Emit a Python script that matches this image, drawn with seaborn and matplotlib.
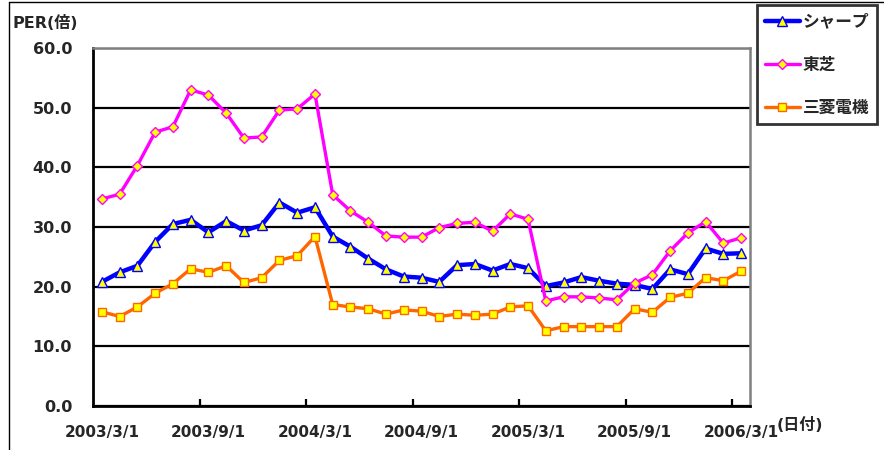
import matplotlib
matplotlib.use("Agg")
import matplotlib.pyplot as plt
from matplotlib.lines import Line2D
from matplotlib.ticker import FixedLocator, FormatStrFormatter
import seaborn as sns
import pandas as pd

# monthly dates, 2003/3 .. 2006/3
dates = [f"{2003 + (m + 2) // 12}/{(m + 2) % 12 + 1}/1" for m in range(37)]
tick_labels = ["2003/3/1", "2003/9/1", "2004/3/1", "2004/9/1",
               "2005/3/1", "2005/9/1", "2006/3/1"]

sharp = [20.8, 22.4, 23.5, 27.5, 30.5, 31.2, 29.1, 31.0, 29.4, 30.3,
         34.1, 32.4, 33.3, 28.4, 26.7, 24.7, 22.9, 21.7, 21.5, 20.8,
         23.6, 23.8, 22.7, 23.8, 23.1, 20.1, 20.7, 21.6, 21.0, 20.5,
         20.3, 19.6, 22.9, 22.1, 26.4, 25.5, 25.6]
toshiba = [34.7, 35.5, 40.3, 45.9, 46.8, 53.0, 52.1, 49.1, 44.9, 45.1,
           49.6, 49.8, 52.3, 35.4, 32.7, 30.8, 28.5, 28.3, 28.3, 29.9,
           30.6, 30.8, 29.3, 32.2, 31.3, 17.6, 18.3, 18.3, 18.1, 17.8,
           20.6, 22.0, 26.0, 29.0, 30.9, 27.3, 28.2]
mitsubishi = [15.8, 15.0, 16.6, 18.9, 20.5, 23.0, 22.4, 23.5, 20.7, 21.5,
              24.4, 25.2, 28.4, 17.0, 16.6, 16.3, 15.4, 16.1, 15.9, 15.0,
              15.4, 15.2, 15.4, 16.6, 16.8, 12.6, 13.3, 13.3, 13.3, 13.3,
              16.3, 15.7, 18.2, 18.9, 21.5, 21.0, 22.6]

series = [("シャープ", sharp, "#0000FF", "^", 7, 3.2),
          ("東芝", toshiba, "#FF00FF", "D", 5, 2.4),
          ("三菱電機", mitsubishi, "#FF6600", "s", 6, 2.4)]

sns.set_style("white")
plt.rcParams["font.family"] = ["DejaVu Sans", "Noto Sans CJK JP"]
plt.rcParams["font.weight"] = "bold"

fig = plt.figure(figsize=(8.84, 4.5), dpi=100)
ax = fig.add_axes([93 / 884, 1 - 406 / 450, 657 / 884, 358 / 450])

idx = list(range(len(dates)))
for name, vals, col, mk, ms, lw in series:
    df = pd.DataFrame({"x": idx, "PER": vals})
    sns.lineplot(data=df, x="x", y="PER", ax=ax, color=col, linewidth=lw,
                 marker=mk, markersize=ms, markerfacecolor="#FFFF00",
                 markeredgecolor=col, markeredgewidth=1.0, label=name,
                 legend=False, zorder=3)

ax.set_xlim(-0.5, 36.5)
ax.set_ylim(0, 60)
ax.set_xlabel("")
ax.set_ylabel("")

ax.set_yticks(range(0, 61, 10))
ax.yaxis.set_major_formatter(FormatStrFormatter("%.1f"))
ax.grid(axis="y", color="black", linewidth=1.6, zorder=1)
ax.set_axisbelow(True)

ax.set_xticks(list(range(0, 37, 6)))
ax.set_xticklabels(tick_labels)
ax.xaxis.set_minor_locator(FixedLocator([5.5, 11.5, 17.5, 23.5, 29.5, 35.5]))
ax.tick_params(axis="x", which="major", length=0, pad=14, labelsize=11)
ax.tick_params(axis="x", which="minor", direction="in", length=5,
               width=1.6, color="black", bottom=True)
ax.tick_params(axis="y", length=0, pad=15, labelsize=11.5)

for s in ["left", "bottom"]:
    ax.spines[s].set_color("black")
    ax.spines[s].set_linewidth(2.0)
for s in ["top", "right"]:
    ax.spines[s].set_color("#808080")
    ax.spines[s].set_linewidth(1.8)

fig.text(13 / 884, 1 - 23 / 450, "PER(倍)", fontsize=11.5,
         fontweight="bold", va="center", ha="left")
fig.text(777 / 884, 1 - 425 / 450, "(日付)", fontsize=11.5,
         fontweight="bold", va="center", ha="left")

handles, labels = ax.get_legend_handles_labels()
leg = fig.legend(handles, labels, loc="upper left",
                 bbox_to_anchor=(757 / 884, 1 - 5 / 450), borderaxespad=0,
                 frameon=True, fancybox=False, borderpad=0.45,
                 labelspacing=1.5, handlelength=2.1, handletextpad=0.2,
                 prop={"size": 12, "weight": "bold"})
leg.get_frame().set_edgecolor("black")
leg.get_frame().set_linewidth(2.0)

# outer chart frame (only the top and left edges show)
fig.add_artist(Line2D([9 / 884, 9 / 884], [0, 1 - 2 / 450],
                      transform=fig.transFigure, color="black", lw=1.0))
fig.add_artist(Line2D([9 / 884, 1], [1 - 2 / 450, 1 - 2 / 450],
                      transform=fig.transFigure, color="black", lw=1.0))

fig.savefig("out.png", dpi=100)
